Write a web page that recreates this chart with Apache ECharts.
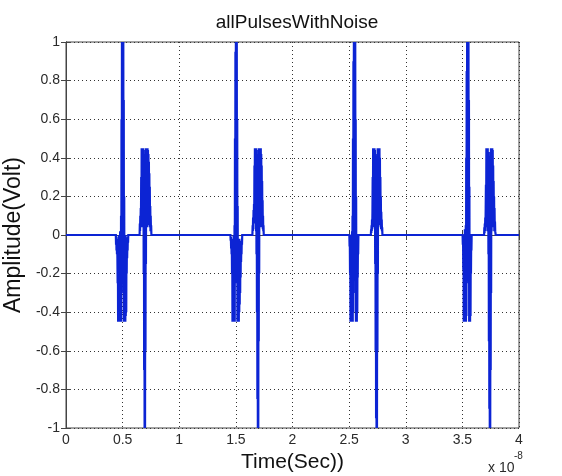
<!DOCTYPE html>
<html>
<head>
<meta charset="utf-8">
<script src="https://cdn.jsdelivr.net/npm/echarts@6/dist/echarts.min.js"></script>
<style>
  html, body { margin: 0; padding: 0; background: #fff; }
  #chart { width: 562px; height: 476px; }
</style>
</head>
<body>
<div id="chart"></div>
<script>
// Time axis is in units of 1e-8 s; amplitude in volts.
const timeTicks = [0, 0.5, 1, 1.5, 2, 2.5, 3, 3.5, 4];
const ampTicks = [-1, -0.8, -0.6, -0.4, -0.2, 0, 0.2, 0.4, 0.6, 0.8, 1];

// Sampling interval of the recorded signal (×1e-8 s)
const sampleStep = 0.002;

// Start time of each burst (×1e-8 s)
const leadStarts = [0.44, 1.452, 2.502, 3.502];
const trailStarts = [0.65, 1.646, 2.692, 3.692];

// Leading burst of each pulse: negative lobe around a full-scale positive spike
const lead1 = [0, -0.05, -0.01, -0.08, -0.02, -0.1, -0.03, -0.12,
  -0.25, -0.02, -0.45, -0.05, -0.45, 0, -0.45, -0.08, -0.45, -0.03, -0.45, 0.02, -0.45, -0.1, -0.45, 0.1, -0.45,
  0.6, -0.3, 1, 0.05, 1, 0.1, 1, 0.02, 1, -0.2, 0.7,
  -0.45, 0.2, -0.45, -0.02, -0.45, -0.06, -0.45, 0, -0.42, -0.05, -0.4, -0.03,
  -0.2, -0.02, -0.12, -0.04, -0.08, -0.01, -0.04, 0];
const lead2 = [0, -0.03, -0.01, -0.07, -0.02, -0.1, -0.04,
  -0.2, -0.05, -0.45, -0.02, -0.45, -0.08, -0.45, 0, -0.45, -0.06, -0.45, 0.05, -0.45,
  0.5, -0.2, 0.95, 0.03, 1, 0.08, 1, 0, 1, -0.25,
  0.6, -0.45, 0.15, -0.45, -0.04, -0.45, -0.08, -0.45, -0.02, -0.4, -0.06, -0.36, -0.1, -0.3,
  -0.05, -0.22, -0.03, -0.14, -0.06, -0.1, -0.02, -0.05, 0];
const lead3 = [0, -0.06, -0.02,
  -0.2, -0.04, -0.45, -0.08, -0.45, 0, -0.45, -0.05, -0.45, 0.02, -0.45, 0.1,
  -0.45, 0.5, -0.4, 0.9, -0.1, 1, 0.05, 1, 0, 1, -0.1, 1, -0.3,
  0.6, -0.45, 0.2, -0.45, -0.03, -0.45, -0.06, -0.4,
  -0.08, -0.22, -0.03, -0.1, 0];
const lead4 = [0, -0.05, -0.01,
  -0.18, -0.05, -0.45, -0.02, -0.45, -0.07, -0.45, 0.03, -0.45, -0.04, -0.45, 0.05,
  -0.45, 0.4, -0.42, 0.85, -0.15, 1, 0.02, 1, 0.04, 1, -0.05, 1, -0.25,
  0.7, -0.45, 0.25, -0.45, -0.02, -0.45, -0.1, -0.42,
  -0.05, -0.2, -0.02, -0.08, 0];

// Trailing burst of each pulse: positive lobe around a full-scale negative spike
const trail1 = [0, 0.06, 0.02, 0.1, 0.04, 0.14, 0.08,
  0.3, 0.05, 0.45, 0.1, 0.45, 0.04, 0.45, 0.12, 0.45, 0.06, 0.44, -0.2,
  0.42, -0.7, 0.4, -1, 0.38, -1, 0.4, -0.6,
  0.45, -0.15, 0.45, 0.05, 0.45, 0.1, 0.45, 0.04, 0.45, 0.12, 0.44, 0.06, 0.42, 0.1, 0.38, 0.05, 0.32, 0.08, 0.25,
  0.04, 0.15, 0.02, 0.1, 0.03, 0.05, 0];
const trail2 = [0, 0.05, 0.02, 0.09, 0.03, 0.13, 0.06,
  0.16, 0.08, 0.36, 0.12, 0.45, 0.06, 0.45, 0.1, 0.45, 0.02, 0.45, -0.1,
  0.44, -0.4, 0.41, -0.85, 0.39, -1, 0.4, -1, 0.42, -0.55,
  0.45, -0.2, 0.45, 0.05, 0.45, 0.12, 0.45, 0.06, 0.45, 0.1, 0.42, 0.04, 0.36, 0.12, 0.28, 0.05,
  0.18, 0.03, 0.1, 0.02, 0.05, 0];
const trail3 = [0, 0.03, 0.01, 0.05, 0.02, 0.08, 0.03, 0.12,
  0.3, 0.06, 0.45, 0.1, 0.45, 0.04, 0.45, 0.12, 0.45, 0.08, 0.44, -0.15,
  0.42, -0.6, 0.4, -0.95, 0.38, -1, 0.38, -1, 0.41, -0.6,
  0.45, -0.2, 0.45, 0.04, 0.45, 0.1, 0.45, 0.06, 0.45, 0.12, 0.4, 0.05, 0.3, 0.1,
  0.2, 0.03, 0.12, 0.05, 0.08, 0.02, 0.04, 0];
const trail4 = [0, 0.04, 0.01, 0.06, 0.02, 0.09, 0.04, 0.14,
  0.26, 0.08, 0.45, 0.05, 0.45, 0.08, 0.45, 0.02, 0.45, 0.1, 0.43, -0.1,
  0.43, -0.55, 0.41, -0.9, 0.39, -1, 0.37, -1, 0.4, -0.7,
  0.45, -0.3, 0.45, 0.02, 0.45, 0.12, 0.45, 0.07, 0.44, 0.1, 0.36, 0.04, 0.28, 0.08,
  0.2, 0.02, 0.14, 0.04, 0.07, 0.02, 0.03, 0];

const leads = [lead1, lead2, lead3, lead4];
const trails = [trail1, trail2, trail3, trail4];

// Assemble the full trace: zero baseline between bursts
const trace = [[timeTicks[0], 0]];
function pushBurst(start, values) {
  values.forEach((v, i) => trace.push([start + i * sampleStep, v]));
}
for (let p = 0; p < leads.length; p++) {
  pushBurst(leadStarts[p], leads[p]);
  pushBurst(trailStarts[p], trails[p]);
}
trace.push([timeTicks[timeTicks.length - 1], 0]);

const FONT = 'Liberation Sans, Arial, sans-serif';
const axisColor = '#444';
const labelColor = '#2a2a2a';

const chart = echarts.init(document.getElementById('chart'), null, { renderer: 'canvas' });

const gridLine = { show: true, lineStyle: { color: '#333', width: 1, type: [1, 3] } };

chart.setOption({
  animation: false,
  backgroundColor: '#fff',
  title: {
    text: 'allPulsesWithNoise',
    left: 292, top: 8, textAlign: 'center',
    textStyle: { fontFamily: FONT, fontSize: 19, fontWeight: 'normal', color: '#111' }
  },
  grid: {
    left: 66, right: 43, top: 42, bottom: 48,
    outerBoundsMode: 'none', containLabel: false,
    show: true, borderColor: axisColor, borderWidth: 1, backgroundColor: '#fff'
  },
  xAxis: [{
    type: 'value', min: timeTicks[0], max: timeTicks[timeTicks.length - 1], interval: 0.5,
    name: 'Time(Sec))', nameLocation: 'middle', nameGap: 22,
    nameTextStyle: { fontFamily: FONT, fontSize: 21, color: '#111' },
    axisLine: { show: true, lineStyle: { color: axisColor } },
    axisTick: { show: true, inside: true, length: 5, lineStyle: { color: axisColor } },
    axisLabel: { fontFamily: FONT, fontSize: 14, color: labelColor, margin: 5 },
    splitLine: gridLine
  }, {
    type: 'value', position: 'top', min: timeTicks[0], max: timeTicks[timeTicks.length - 1], interval: 0.5,
    axisLine: { show: true, lineStyle: { color: axisColor } },
    axisTick: { show: true, inside: true, length: 5, lineStyle: { color: axisColor } },
    axisLabel: { show: false }, splitLine: { show: false }
  }],
  yAxis: [{
    type: 'value', min: ampTicks[0], max: ampTicks[ampTicks.length - 1], interval: 0.2,
    name: 'Amplitude(Volt)', nameLocation: 'middle', nameGap: 31, nameRotate: 90,
    nameTextStyle: { fontFamily: FONT, fontSize: 23, color: '#111' },
    axisLine: { show: true, lineStyle: { color: axisColor } },
    axisTick: { show: true, inside: true, length: 5, lineStyle: { color: axisColor } },
    axisLabel: { fontFamily: FONT, fontSize: 14, color: labelColor, margin: 6,
      formatter: v => String(+v.toFixed(1)) },
    splitLine: gridLine
  }, {
    type: 'value', position: 'right', min: ampTicks[0], max: ampTicks[ampTicks.length - 1], interval: 0.2,
    axisLine: { show: true, lineStyle: { color: axisColor } },
    axisTick: { show: true, inside: true, length: 5, lineStyle: { color: axisColor } },
    axisLabel: { show: false }, splitLine: { show: false }
  }],
  graphic: [{
    type: 'text', x: 488, y: 468,
    style: { text: 'x 10', font: '14px ' + FONT, fill: labelColor, align: 'left', verticalAlign: 'middle' }
  }, {
    type: 'text', x: 514, y: 456,
    style: { text: '-8', font: '10px ' + FONT, fill: labelColor, align: 'left', verticalAlign: 'middle' }
  }],
  series: [{
    type: 'line',
    data: trace,
    showSymbol: false,
    symbol: 'none',
    clip: true,
    lineStyle: { color: '#0c24d4', width: 2.2, join: 'miter' },
    z: 3
  }]
});
</script>
</body>
</html>
